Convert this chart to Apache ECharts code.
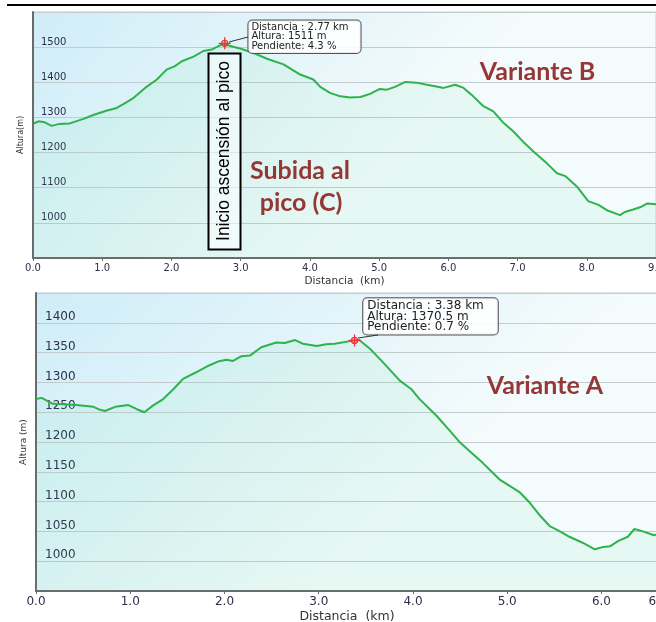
<!DOCTYPE html>
<html>
<head>
<meta charset="utf-8">
<script src="https://cdn.jsdelivr.net/npm/echarts@6/dist/echarts.min.js"></script>
<style>
html,body{margin:0;padding:0;background:#fff;}
#c{width:656px;height:622px;}
</style>
</head>
<body>
<div id="c"></div>
<script>
// ---- Top chart (Variante B / Subida al pico) ----
const topDist = [0.00,0.08,0.17,0.27,0.37,0.53,0.73,0.87,1.06,1.21,1.33,1.45,1.64,1.79,1.93,2.05,2.15,2.32,2.46,2.58,2.70,2.77,2.85,2.99,3.18,3.38,3.62,3.86,4.05,4.15,4.29,4.44,4.58,4.73,4.87,5.01,5.11,5.23,5.38,5.54,5.69,5.81,5.93,6.10,6.22,6.36,6.50,6.65,6.80,6.94,7.08,7.23,7.42,7.57,7.69,7.86,8.02,8.17,8.29,8.48,8.55,8.67,8.79,8.87,9.00];
const topAlt  = [1282,1289,1286,1276,1281,1283,1296,1307,1319,1327,1341,1355,1387,1408,1436,1446,1460,1473,1489,1493,1505,1511,1503,1496,1484,1467,1451,1422,1408,1387,1370,1360,1357,1358,1367,1381,1379,1387,1401,1399,1393,1389,1384,1393,1384,1360,1333,1317,1284,1260,1231,1203,1170,1141,1133,1103,1062,1051,1036,1022,1031,1038,1046,1055,1053];
const topMark = [2.77, 1511, 4.3];   // distancia, altura, pendiente

// ---- Bottom chart (Variante A) ----
const botDist = [0.00,0.06,0.18,0.43,0.61,0.68,0.73,0.84,0.98,1.07,1.15,1.24,1.35,1.46,1.56,1.70,1.83,1.93,2.02,2.09,2.18,2.27,2.39,2.55,2.64,2.75,2.83,2.98,3.08,3.17,3.38,3.43,3.54,3.68,3.86,3.98,4.07,4.25,4.39,4.50,4.62,4.74,4.83,4.92,5.03,5.13,5.24,5.34,5.45,5.55,5.66,5.80,5.93,6.02,6.09,6.18,6.28,6.35,6.44,6.55,6.60];
const botAlt  = [1272,1274,1264,1262,1259,1254,1252,1259,1262,1255,1250,1261,1272,1289,1306,1317,1328,1335,1338,1336,1344,1345,1359,1367,1366,1371,1365,1361,1364,1365,1370.5,1371,1357,1334,1303,1289,1272,1244,1219,1199,1182,1165,1151,1137,1126,1116,1098,1078,1059,1051,1041,1031,1020,1024,1025,1034,1041,1054,1050,1044,1045];
const botMark = [3.38, 1370.5, 0.7];

const xName = 'Distancia  (km)';
const topYName = 'Altura(m)';
const botYName = 'Altura (m)';

const pairs = (xs, ys) => xs.map((x, i) => [x, ys[i]]);
const markText = m => 'Distancia : ' + m[0].toFixed(2) + ' km\nAltura: ' + m[1] + ' m\nPendiente: ' + m[2].toFixed(1) + ' %';

const bg = {type:'linear', x:0, y:0, x2:0.45, y2:1, colorStops:[{offset:0,color:'#cfedf8'},{offset:1,color:'#f4fbfc'}]};
const areaFill = {color:'rgba(80,215,140,0.11)', origin:'start'};
const lineCol = '#2eb24c';
const labCol = '#2e2e4a';
const font = 'DejaVu Sans';

function xAx(gi, max, fs, nameGap, margin){
  return {gridIndex:gi, type:'value', min:0, max:max, interval:1,
    axisLine:{show:true, onZero:false, lineStyle:{color:'#6a6a6a', width:2}},
    axisTick:{show:true, length:3, lineStyle:{color:'#6a6a6a', width:1}},
    axisLabel:{formatter:v => v.toFixed(1), color:labCol, fontSize:fs, fontFamily:font, margin:margin},
    splitLine:{show:false},
    name:xName, nameLocation:'middle', nameGap:nameGap,
    nameTextStyle:{color:'#333', fontSize:fs+0.5, fontFamily:font}};
}
function yAx(gi, min, max, itv, fs, name, nfs, nameGap, margin){
  return {gridIndex:gi, type:'value', min:min, max:max, interval:itv,
    axisLine:{show:true, lineStyle:{color:'#6a6a6a', width:2}},
    axisTick:{show:false},
    axisLabel:{inside:true, showMinLabel:false, showMaxLabel:false, formatter:v => String(v),
      color:labCol, fontSize:fs, fontFamily:font, margin:margin, verticalAlign:'bottom'},
    splitLine:{show:true, lineStyle:{color:'#c3cbcf', width:1}},
    name:name, nameLocation:'middle', nameGap:nameGap,
    nameTextStyle:{color:'#333', fontSize:nfs, fontFamily:font}};
}
const markSymbol = 'path://M10,0L10,20M0,10L20,10M15,10A5,5,0,1,1,5,10A5,5,0,1,1,15,10Z';
function markSeries(xi, m, fs, lh, off, pad){
  return {type:'scatter', xAxisIndex:xi, yAxisIndex:xi, z:10,
    data:[[m[0], m[1]]], symbol:markSymbol, symbolSize:12, symbolKeepAspect:true,
    itemStyle:{color:'rgba(0,0,0,0)', borderColor:'#e8343a', borderWidth:1.3, opacity:1},
    label:{show:true, position:'right', distance:0, offset:off, formatter:() => markText(m),
      color:'#222', fontSize:fs, lineHeight:lh, fontFamily:font,
      backgroundColor:'rgba(255,255,255,0.88)', borderColor:'#555', borderWidth:1, borderRadius:4, padding:pad},
    emphasis:{disabled:true}, silent:true};
}
const dark = '#953735';
const chart = echarts.init(document.getElementById('c'), null, {renderer:'canvas'});
chart.setOption({
  animation:false,
  grid:[
    {left:33, top:12, right:0, height:246, outerBoundsMode:'none', containLabel:false, show:true, backgroundColor:bg, borderColor:'#c9cfd3', borderWidth:1},
    {left:36, top:293, right:-2, height:298, outerBoundsMode:'none', containLabel:false, show:true, backgroundColor:bg, borderColor:'#c9cfd3', borderWidth:1}
  ],
  xAxis:[ xAx(0, 9, 10, 18, 5), xAx(1, 6.6, 12, 19, 5) ],
  yAxis:[ yAx(0, 900, 1600, 100, 10, topYName, 8, 6, 8), yAx(1, 950, 1450, 50, 12, botYName, 9, 6.5, 9) ],
  series:[
    {type:'line', xAxisIndex:0, yAxisIndex:0, data:pairs(topDist, topAlt), showSymbol:false, smooth:false,
      lineStyle:{color:lineCol, width:2}, areaStyle:areaFill, silent:true},
    {type:'line', xAxisIndex:1, yAxisIndex:1, data:pairs(botDist, botAlt), showSymbol:false, smooth:false,
      lineStyle:{color:lineCol, width:2}, areaStyle:areaFill, silent:true},
    markSeries(0, topMark, 10, 9.5, [17, -6.6], [2,12,2,3]),
    markSeries(1, botMark, 12, 10.8, [2, -24], [2,14,2,4])
  ],
  graphic:[
    {type:'line', shape:{x1:7, y1:5, x2:656, y2:5}, style:{stroke:'#000', lineWidth:2}, z:100},
    {type:'line', shape:{x1:229, y1:42, x2:248, y2:37}, style:{stroke:'#333', lineWidth:1}, z:100},
    {type:'line', shape:{x1:358, y1:338, x2:378, y2:335}, style:{stroke:'#333', lineWidth:1}, z:100},
    {type:'rect', shape:{x:208.5, y:53.5, width:32, height:196}, style:{fill:'rgba(255,255,255,0.55)', stroke:'#000', lineWidth:2}, z:100},
    {type:'text', x:224.5, y:151, rotation:Math.PI/2, z:101,
      style:{text:'Inicio ascensión al pico', fill:'#000', font:'17.5px "Liberation Sans"', align:'center', verticalAlign:'middle'}},
    {type:'text', x:537.5, y:72, z:101, style:{text:'Variante B', fill:dark, font:'bold 25px Lato', align:'center', verticalAlign:'middle'}},
    {type:'text', x:300, y:171, z:101, style:{text:'Subida al', fill:dark, font:'bold 25px Lato', align:'center', verticalAlign:'middle'}},
    {type:'text', x:301, y:203, z:101, style:{text:'pico (C)', fill:dark, font:'bold 25px Lato', align:'center', verticalAlign:'middle'}},
    {type:'text', x:545, y:386, z:101, style:{text:'Variante A', fill:dark, font:'bold 25px Lato', align:'center', verticalAlign:'middle'}}
  ]
});
</script>
</body>
</html>
